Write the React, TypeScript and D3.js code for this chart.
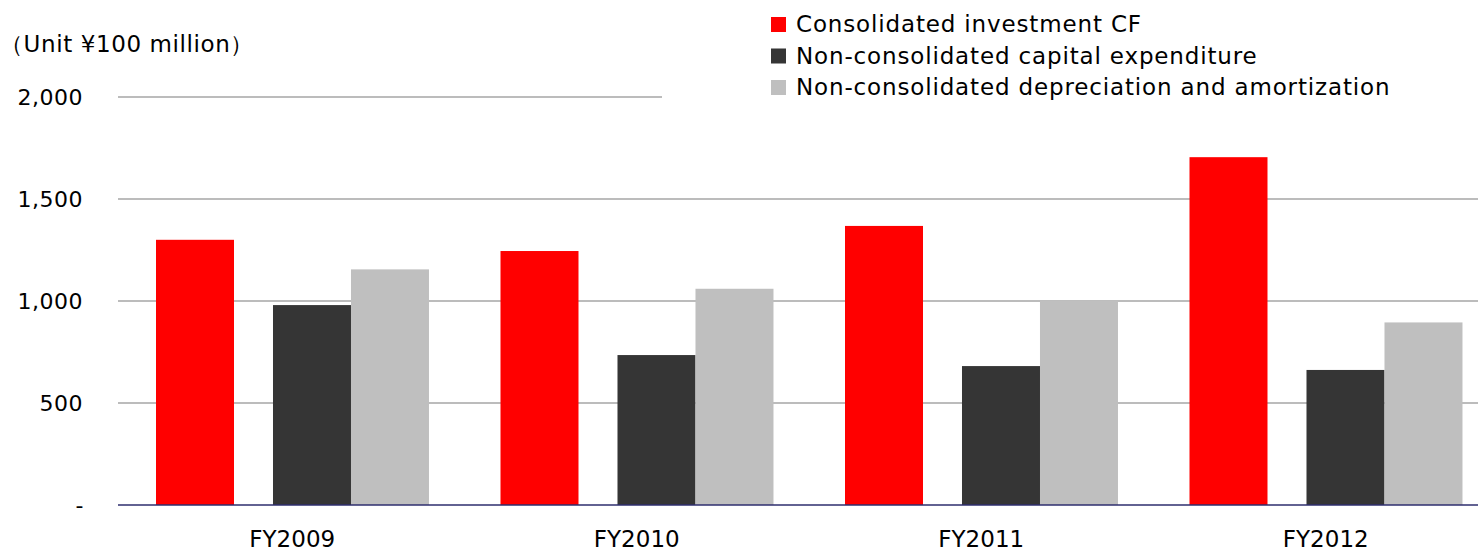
import React from "react";
import * as d3 from "d3";

const categories = ["FY2009", "FY2010", "FY2011", "FY2012"];
const seriesNames = [
  "Consolidated investment CF",
  "Non-consolidated capital expenditure",
  "Non-consolidated depreciation and amortization",
];
const investmentCF = [1300, 1245, 1368, 1705];
const capex = [980, 735, 681, 662];
const depreciation = [1155, 1060, 1003, 895];
const yTicks = [0, 500, 1000, 1500, 2000];
const colors = ["#ff0000", "#353535", "#bfbfbf"];

const W = 1478;
const H = 551;
const FONT = "'DejaVu Sans', sans-serif";

const App = () => {
  const margin = { top: 97, left: 118, right: 0, bottom: 46 };
  const iheight = H - margin.top - margin.bottom;

  const y = d3.scaleLinear().domain([0, 2000]).range([margin.top + iheight, margin.top]);
  const band = d3.scaleBand().domain(categories).range([120, 120 + 344.5 * 4]);
  const bw = band.bandwidth();
  const barW = bw * 0.2264;
  // slot positions (in bar widths) inside each category: red, gap, dark, light
  const slot = d3.scaleLinear().domain([0, 1]).range([bw * 0.1045, bw * 0.1045 + barW]);
  const slots = [0, 1.5, 2.5];
  const series = [investmentCF, capex, depreciation];

  const fmt = (v: number) => (v === 0 ? "-" : d3.format(",")(v));

  return (
    <svg width={W} height={H} style={{ position: "absolute", left: 0, top: 0, background: "#fff" }}>
      {yTicks.filter((t) => t > 0).map((t) => (
        <line key={t} x1={118} x2={t === 2000 ? 662 : W} y1={y(t)} y2={y(t)} stroke="#a6a6a6" strokeWidth={1.3} />
      ))}
      {categories.map((c, ci) => (
        <g key={c} transform={`translate(${band(c)},0)`}>
          {series.map((s, si) => (
            <rect
              key={si}
              x={slot(slots[si])}
              y={y(s[ci])}
              width={barW}
              height={y(0) - y(s[ci])}
              fill={colors[si]}
            />
          ))}
          <text x={bw / 2} y={547} textAnchor="middle" fontFamily={FONT} fontSize={23} fill="#000">
            {c}
          </text>
        </g>
      ))}
      <line x1={118} x2={W} y1={y(0)} y2={y(0)} stroke="#2e2e6e" strokeWidth={1.5} />
      {yTicks.map((t) => (
        <text
          key={t}
          x={t === 0 ? 84 : 83}
          y={y(t) + 8}
          textAnchor="end"
          fontFamily={FONT}
          fontSize={22}
          letterSpacing={0.5}
          fill="#000"
        >
          {fmt(t)}
        </text>
      ))}
      <text x={0} y={52} fontFamily={FONT} fontSize={23} letterSpacing={0.6} fill="#000">
        （Unit ¥100 million）
      </text>
      {seriesNames.map((n, i) => (
        <g key={n} transform={`translate(771,${17 + i * 31.5})`}>
          <rect x={0} y={0} width={15} height={15} fill={colors[i]} />
          <text x={25} y={15} fontFamily={FONT} fontSize={23} letterSpacing={0.85} fill="#000">
            {n}
          </text>
        </g>
      ))}
    </svg>
  );
};

export default App;
